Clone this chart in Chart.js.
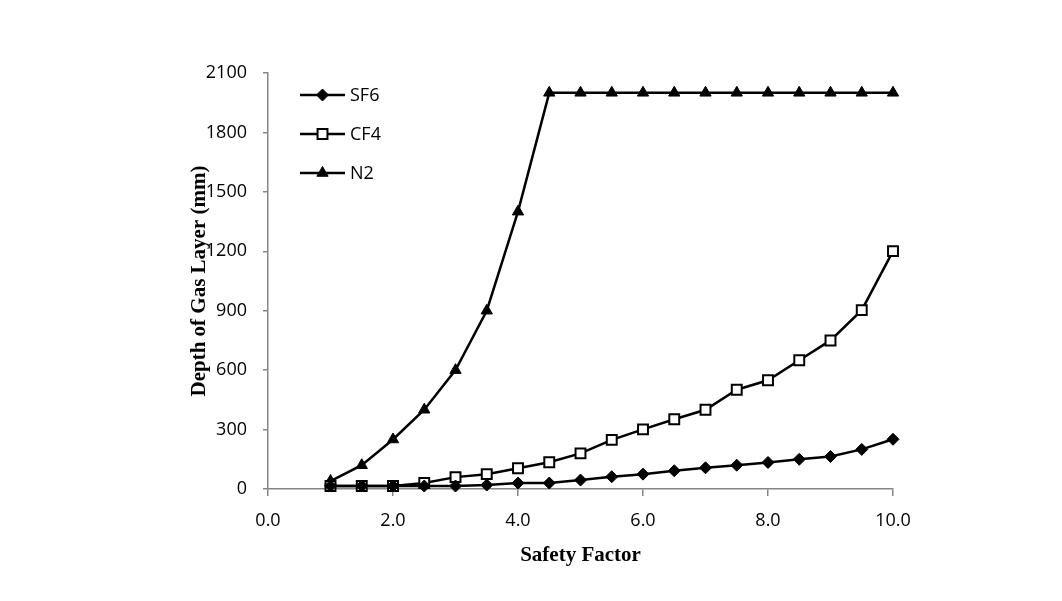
<!DOCTYPE html>
<html>
<head>
<meta charset="utf-8">
<script src="https://cdn.jsdelivr.net/npm/chart.js@4/dist/chart.umd.min.js"></script>
<style>
  html, body { margin: 0; padding: 0; background: #fff; }
  #wrap { width: 1062px; height: 601px; position: relative; }
</style>
</head>
<body>
<div id="wrap"><canvas id="chart"></canvas></div>
<script>
// ── Data ─────────────────────────────────────────────────────────────── //
const safetyFactor = [1.0, 1.5, 2.0, 2.5, 3.0, 3.5, 4.0, 4.5, 5.0, 5.5, 6.0, 6.5, 7.0, 7.5, 8.0, 8.5, 9.0, 9.5, 10.0];
const sf6 = [15, 15, 15, 15, 15, 20, 30, 30, 45, 62, 75, 92, 107, 120, 134, 150, 164, 200, 251];
const cf4 = [15, 15, 15, 30, 60, 75, 105, 135, 180, 248, 301, 352, 400, 501, 549, 650, 750, 903, 1201];
const n2  = [40, 120, 250, 400, 600, 900, 1400, 2000, 2000, 2000, 2000, 2000, 2000, 2000, 2000, 2000, 2000, 2000, 2000];
const seriesNames = ['SF6', 'CF4', 'N2'];
const xTicks = [0, 2, 4, 6, 8, 10];
const yTicks = [0, 300, 600, 900, 1200, 1500, 1800, 2100];

const AXIS_GREY = '#868686';
const tickFont = { family: '"Open Sans", "Liberation Sans", sans-serif', size: 18 };
const titleFont = { family: '"Liberation Serif", "DejaVu Serif", serif', size: 21, weight: 'bold' };

function pts(ys) {
  return ys.map(function (y, i) { return { x: safetyFactor[i], y: y }; });
}

// legend drawn inside the plot, top-left, like the original
const insideLegend = {
  id: 'insideLegend',
  afterDraw: function (chart) {
    const ctx = chart.ctx;
    const x0 = 300, x1 = 345, rows = [95, 134, 173];
    chart.data.datasets.forEach(function (ds, i) {
      const y = rows[i];
      ctx.save();
      ctx.strokeStyle = '#000';
      ctx.lineWidth = 2.5;
      ctx.beginPath();
      ctx.moveTo(x0, y);
      ctx.lineTo(x1, y);
      ctx.stroke();
      ctx.fillStyle = ds.pointBackgroundColor;
      ctx.strokeStyle = '#000';
      ctx.lineWidth = ds.pointBorderWidth;
      Chart.helpers.drawPoint(ctx, {
        pointStyle: ds.pointStyle,
        radius: ds.pointRadius,
        borderWidth: ds.pointBorderWidth,
        rotation: 0
      }, (x0 + x1) / 2, y);
      ctx.fillStyle = '#000';
      ctx.font = '18px "Open Sans", "Liberation Sans", sans-serif';
      ctx.textBaseline = 'middle';
      ctx.fillText(ds.label, x1 + 5, y + 1);
      ctx.restore();
    });
  }
};

new Chart(document.getElementById('chart').getContext('2d'), {
  type: 'line',
  data: {
    datasets: [
      {
        label: seriesNames[0], data: pts(sf6),
        borderColor: '#000', borderWidth: 2.5, clip: false,
        pointStyle: 'rectRot', pointRadius: 6, pointBorderWidth: 1,
        pointBackgroundColor: '#000', pointBorderColor: '#000'
      },
      {
        label: seriesNames[1], data: pts(cf4),
        borderColor: '#000', borderWidth: 2.5, clip: false,
        pointStyle: 'rect', pointRadius: 7, pointBorderWidth: 2,
        pointBackgroundColor: '#fff', pointBorderColor: '#000'
      },
      {
        label: seriesNames[2], data: pts(n2),
        borderColor: '#000', borderWidth: 2.5, clip: false,
        pointStyle: 'triangle', pointRadius: 6.5, pointBorderWidth: 1,
        pointBackgroundColor: '#000', pointBorderColor: '#000'
      }
    ]
  },
  options: {
    responsive: true,
    maintainAspectRatio: false,
    animation: false,
    layout: { padding: { left: 187, right: 169, top: 73, bottom: 29 } },
    plugins: {
      legend: { display: false },
      tooltip: { enabled: false }
    },
    scales: {
      x: {
        type: 'linear', min: 0, max: 10,
        afterFit: function (s) { s.height = 83; },
        afterBuildTicks: function (s) { s.ticks = xTicks.map(function (v) { return { value: v }; }); },
        grid: { drawOnChartArea: false, color: AXIS_GREY, tickLength: 7, lineWidth: 1.5 },
        border: { color: AXIS_GREY, width: 1.5 },
        ticks: {
          color: '#000', font: tickFont, padding: 14, maxRotation: 0,
          callback: function (v) { return v.toFixed(1); }
        },
        title: { display: true, text: 'Safety Factor', color: '#000', font: titleFont, padding: { top: 4 } }
      },
      y: {
        min: 0, max: 2100,
        afterFit: function (s) { s.width = 81; },
        afterBuildTicks: function (s) { s.ticks = yTicks.map(function (v) { return { value: v }; }); },
        grid: { drawOnChartArea: false, color: AXIS_GREY, tickLength: 5, lineWidth: 1.5 },
        border: { color: AXIS_GREY, width: 1.5 },
        ticks: { color: '#000', font: tickFont, padding: 16, callback: function (v) { return String(v); } },
        title: { display: true, text: 'Depth of Gas Layer (mm)', color: '#000', font: titleFont, padding: 0 }
      }
    }
  },
  plugins: [insideLegend]
});
</script>
</body>
</html>
